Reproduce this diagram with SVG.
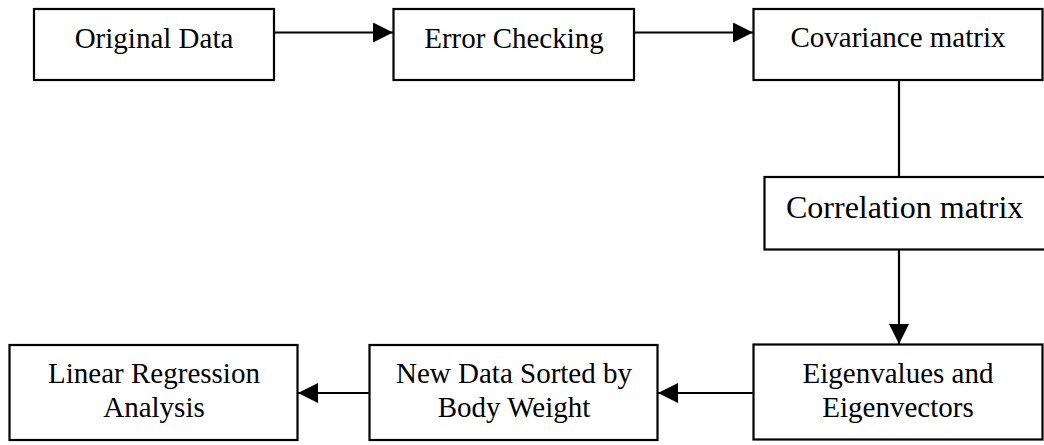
<svg xmlns="http://www.w3.org/2000/svg" width="1044" height="445" viewBox="0 0 1044 445">
  <style>
    .box { fill: #ffffff; stroke: #000000; stroke-width: 2.2; }
    .lbl { font-family: "Liberation Serif", "Times New Roman", serif; font-size: 29px; fill: #000000; text-anchor: middle; }
    .big { font-size: 32px; text-anchor: start; }
    .wire { fill: none; stroke: #000000; stroke-width: 2.2; }
  </style>
  <defs>
    <marker id="head" markerUnits="userSpaceOnUse" markerWidth="20" markerHeight="20" viewBox="0 0 20 20" refX="20" refY="10" orient="auto">
      <path d="M0,0 L20,10 L0,20 Z" fill="#000000"/>
    </marker>
  </defs>
  <rect width="1044" height="445" fill="#ffffff"/>

  <g id="connectors">
    <line class="wire" x1="274" y1="32.5" x2="393" y2="32.5" marker-end="url(#head)"/>
    <line class="wire" x1="634" y1="32.5" x2="753" y2="32.5" marker-end="url(#head)"/>
    <line class="wire" x1="899" y1="80" x2="899" y2="177"/>
    <line class="wire" x1="899" y1="249" x2="899" y2="344" marker-end="url(#head)"/>
    <line class="wire" x1="753" y1="393" x2="658" y2="393" marker-end="url(#head)"/>
    <line class="wire" x1="369" y1="393" x2="298" y2="393" marker-end="url(#head)"/>
  </g>

  <g id="original-data">
    <rect class="box" x="34" y="9" width="240" height="71"/>
    <text class="lbl" x="154" y="48">Original Data</text>
  </g>

  <g id="error-checking">
    <rect class="box" x="393.5" y="9" width="240.5" height="71"/>
    <text class="lbl" x="514" y="47.5">Error Checking</text>
  </g>

  <g id="covariance-matrix">
    <rect class="box" x="753.5" y="9" width="289" height="71"/>
    <text class="lbl" x="898" y="47">Covariance matrix</text>
  </g>

  <g id="correlation-matrix">
    <rect class="box" x="764.5" y="177" width="284" height="72.5"/>
    <text class="lbl big" x="786" y="218">Correlation matrix</text>
  </g>

  <g id="eigen">
    <rect class="box" x="753.5" y="344.5" width="289" height="95"/>
    <text class="lbl" x="898" y="382.5">Eigenvalues and</text>
    <text class="lbl" x="898" y="416.5">Eigenvectors</text>
  </g>

  <g id="new-data">
    <rect class="box" x="369.5" y="345" width="288" height="95"/>
    <text class="lbl" x="514" y="382.5">New Data Sorted by</text>
    <text class="lbl" x="514" y="416.5">Body Weight</text>
  </g>

  <g id="linear-regression">
    <rect class="box" x="9.5" y="345" width="288" height="95"/>
    <text class="lbl" x="154" y="382.5">Linear Regression</text>
    <text class="lbl" x="154" y="416.5">Analysis</text>
  </g>
</svg>
